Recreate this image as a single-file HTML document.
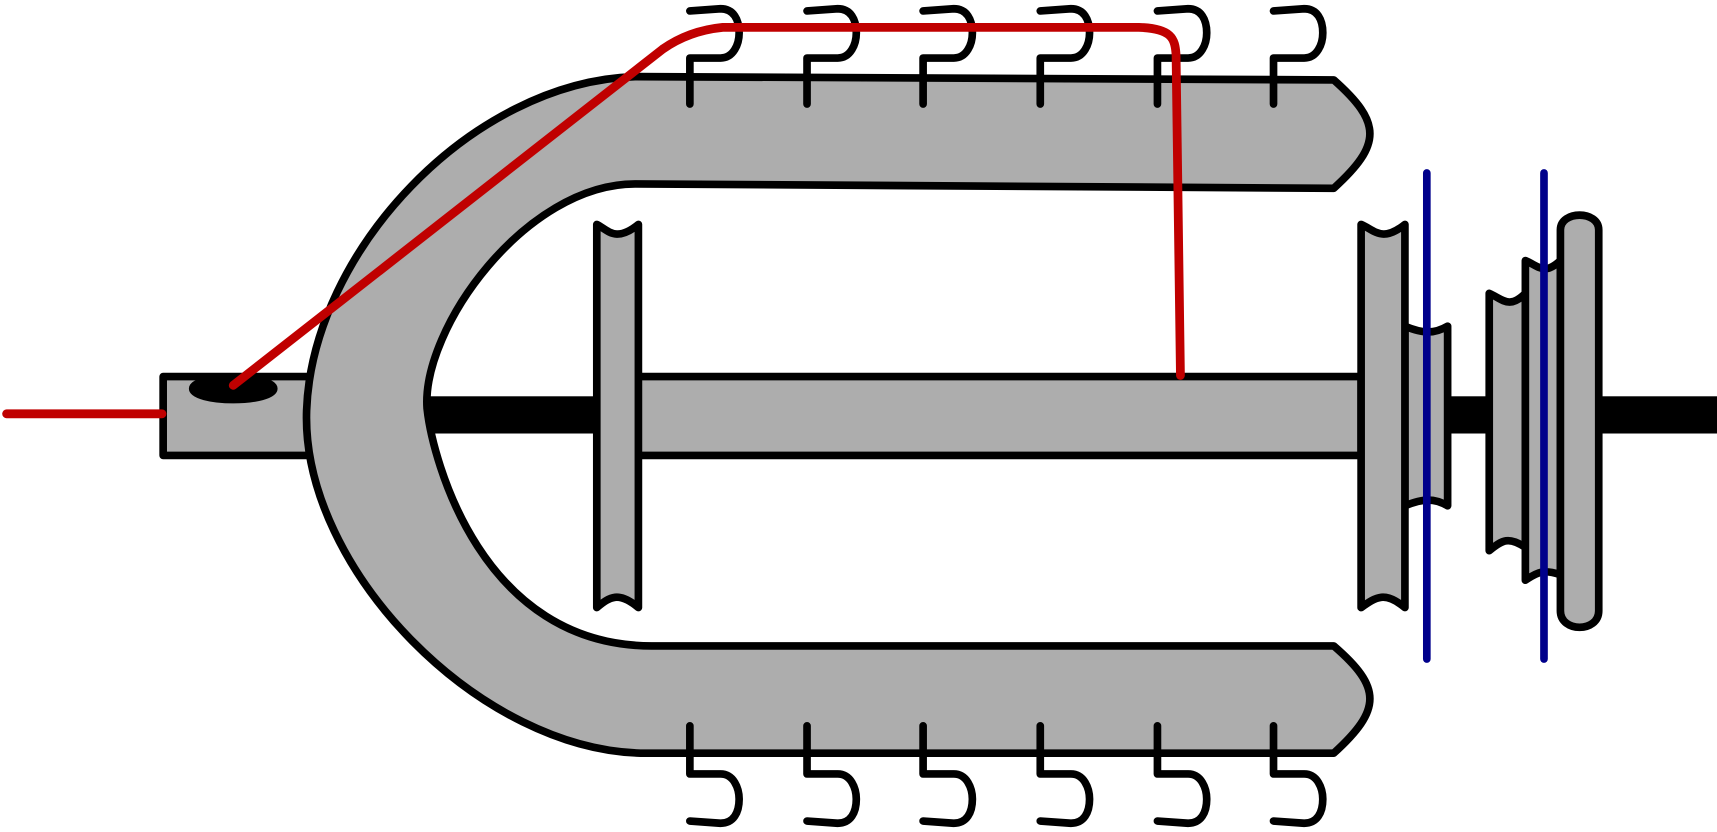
<!DOCTYPE html>
<html><head><meta charset="utf-8"><style>html,body{margin:0;padding:0;background:#fff}svg{display:block}</style></head>
<body>
<svg width="1717" height="832" viewBox="0 0 1568 760" xmlns="http://www.w3.org/2000/svg" preserveAspectRatio="none">
<g stroke="#000" stroke-width="7" stroke-linejoin="round" stroke-linecap="round">
<!-- axle -->
<rect x="380" y="362" width="180" height="34" fill="#000" stroke="none"/>
<rect x="1320" y="362" width="248" height="34" fill="#000" stroke="none"/>
<!-- left small block -->
<rect x="149" y="344" width="135" height="72" fill="#adadad"/>
<ellipse cx="213" cy="355" rx="37" ry="10" fill="#000"/>
<!-- U shape -->
<path d="M1218,73 L580,70 C430,75 285,230 280,375 C275,520 440,688 590,688 L1218,688 C1262,648 1262,628 1218,590 L595,590 C440,590 395,420 390,373 C385,300 480,168 580,168 L1218,172 C1262,132 1262,112 1218,73 Z" fill="#adadad"/>
<!-- central tube -->
<rect x="580" y="344" width="663" height="72" fill="#adadad"/>
<!-- left plate -->
<path d="M545,205 C555,210 562,222 583,205 L583,555 C565,540 557,545 545,555 Z" fill="#adadad"/>
<!-- right plates -->
<path d="M1283,298 C1300,305 1310,305 1322,298 L1322,462 C1310,455 1300,455 1283,462 Z" fill="#adadad"/>
<path d="M1243,205 C1255,210 1262,222 1283,205 L1283,555 C1265,540 1257,545 1243,555 Z" fill="#adadad"/>
<path d="M1360,268 C1372,273 1378,283 1393,268 L1393,500 C1378,490 1372,493 1360,503 Z" fill="#adadad"/>
<path d="M1393,238 C1405,243 1410,252 1425,238 L1425,525 C1410,520 1405,522 1393,530 Z" fill="#adadad"/>
<path d="M1425,210 C1425,192 1460,192 1460,210 L1460,558 C1460,578 1425,578 1425,558 Z" fill="#adadad"/>
</g>
<!-- blue lines -->
<g stroke="#00008b" stroke-width="7" stroke-linecap="round">
<line x1="1303" y1="158" x2="1303" y2="602"/>
<line x1="1410" y1="158" x2="1410" y2="602"/>
</g>
<!-- hooks -->
<g stroke="#000" stroke-width="7" fill="none" stroke-linecap="round" stroke-linejoin="round">
<path d="M630,95 L630,53 L658,53 C670,53 675,40 675,30 C675,18 670,8 658,8 L630,10"/>
<path d="M737,95 L737,53 L765,53 C777,53 782,40 782,30 C782,18 777,8 765,8 L737,10"/>
<path d="M843,95 L843,53 L871,53 C883,53 888,40 888,30 C888,18 883,8 871,8 L843,10"/>
<path d="M950,95 L950,53 L978,53 C990,53 995,40 995,30 C995,18 990,8 978,8 L950,10"/>
<path d="M1057,95 L1057,53 L1085,53 C1097,53 1102,40 1102,30 C1102,18 1097,8 1085,8 L1057,10"/>
<path d="M1163,95 L1163,53 L1191,53 C1203,53 1208,40 1208,30 C1208,18 1203,8 1191,8 L1163,10"/>
<path d="M630,663 L630,707 L658,707 C670,707 675,720 675,730 C675,742 670,752 658,752 L630,750"/>
<path d="M737,663 L737,707 L765,707 C777,707 782,720 782,730 C782,742 777,752 765,752 L737,750"/>
<path d="M843,663 L843,707 L871,707 C883,707 888,720 888,730 C888,742 883,752 871,752 L843,750"/>
<path d="M950,663 L950,707 L978,707 C990,707 995,720 995,730 C995,742 990,752 978,752 L950,750"/>
<path d="M1057,663 L1057,707 L1085,707 C1097,707 1102,720 1102,730 C1102,742 1097,752 1085,752 L1057,750"/>
<path d="M1163,663 L1163,707 L1191,707 C1203,707 1208,720 1208,730 C1208,742 1203,752 1191,752 L1163,750"/>
</g>
<!-- red wire -->
<g stroke="#c00000" stroke-width="8" fill="none" stroke-linecap="round" stroke-linejoin="round">
<line x1="6" y1="378" x2="148" y2="378"/>
<path d="M213,352 L605,45 C622,33 640,27 660,25 L1040,25 C1070,26 1073,35 1074,50 L1078,343"/>
</g>
</svg>
</body></html>
